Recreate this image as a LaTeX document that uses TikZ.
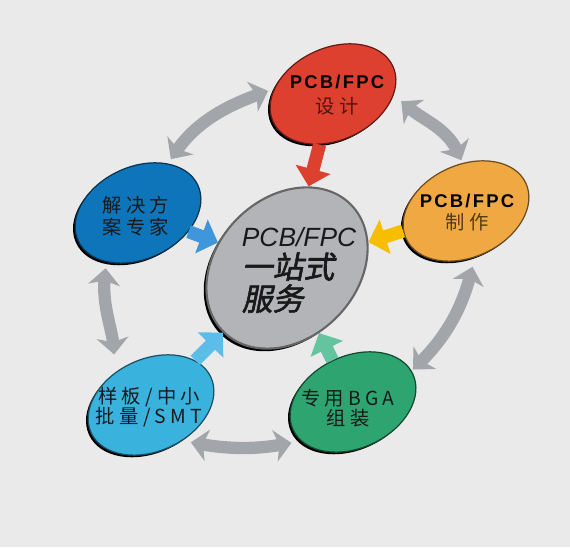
\documentclass[tikz,border=0pt]{standalone}
\usepackage{fontspec}
\setmainfont{Liberation Sans}
\newfontfamily\hanzi[LetterSpace=22]{Noto Sans CJK SC}
\newfontfamily\hubhanzi[FakeSlant=0.2,FakeBold=2]{Noto Sans CJK SC}
\newfontfamily\pcbfont[LetterSpace=12]{Liberation Sans}
\usetikzlibrary{shapes.geometric,arrows.meta,shadows}
\definecolor{paper}{RGB}{234,234,234}
\definecolor{dsgnred}{RGB}{222,64,48}
\definecolor{makeorange}{RGB}{240,168,66}
\definecolor{solblue}{RGB}{14,117,186}
\definecolor{smtcyan}{RGB}{58,178,222}
\definecolor{bgagreen}{RGB}{46,165,112}
\definecolor{hubgray}{RGB}{178,180,184}
\definecolor{cyclegray}{RGB}{162,166,170}
\definecolor{feedyellow}{RGB}{247,190,0}
\definecolor{feedblue}{RGB}{64,150,218}
\definecolor{feedsky}{RGB}{92,190,232}
\definecolor{feedteal}{RGB}{100,196,160}

\tikzset{
  station/.style={ellipse, minimum width=2.64cm, minimum height=1.84cm, inner sep=0pt,
    rotate=25, fill=#1, draw=#1!45!black, line width=0.7pt,
    drop shadow={shadow xshift=-1.2pt, shadow yshift=-1.2pt, fill=black, opacity=1}},
  core/.style={ellipse, minimum width=3.6cm, minimum height=2.8cm, inner sep=0pt,
    rotate=45, fill=hubgray, draw=black!60, line width=1.2pt,
    drop shadow={shadow xshift=-1.5pt, shadow yshift=-1.5pt, fill=black, opacity=1}},
  caption/.style={align=center, text=black!90, font=\hanzi\fontsize{11}{12.5}\selectfont},
  cyclearrow/.style={draw=cyclegray, line width=7pt,
    {Stealth[width=18pt,length=9.5pt,inset=2.5pt]}-{Stealth[width=18pt,length=9.5pt,inset=2.5pt]}},
  feedarrow/.style={draw=#1, line width=7.5pt, -{Triangle[width=20pt,length=10pt]}}
}

\begin{document}
\begin{tikzpicture}[x=0.02cm,y=0.02cm]
  \fill[paper] (0,0) rectangle (570,547);

  % stations
  \node[core] (hub) at (287,279) {};
  \node[station=dsgnred] (design) at (333,453) {};
  \node[station=makeorange] (make) at (466,336) {};
  \node[station=solblue] (solution) at (138,334) {};
  \node[station=smtcyan] (smt) at (151,142) {};
  \node[station=bgagreen] (bga) at (353,145) {};

  % labels
  \node[align=left, text=black!90, font=\fontsize{16}{18.2}\selectfont] (hub-txt) at (299,277)
    {{\fontsize{15}{18.2}\selectfont\itshape PCB/FPC}\\
     {\hubhanzi\fontsize{17.5}{18.2}\selectfont 一站式}\\
     {\hubhanzi\fontsize{17.5}{18.2}\selectfont 服务}};
  \node[caption] (design-txt) at (337,452)
    {{\pcbfont\bfseries\fontsize{10.5}{12}\selectfont\color{black} PCB/FPC}\\[2pt]{\color{dsgnred!35!black}设计}};
  \node[caption] (make-txt) at (467,334)
    {{\pcbfont\bfseries\fontsize{10.5}{12}\selectfont\color{black} PCB/FPC}\\{\color{makeorange!35!black}制作}};
  \node[caption] (solution-txt) at (136,331) {解决方\\案专家};
  \node[caption] (smt-txt) at (149,140) {样板/中小\\[-1pt]批量/SMT};
  \node[caption] (bga-txt) at (348,139) {专用BGA\\[-1pt]组装};

  % feeds into the hub
  \draw[feedarrow=dsgnred] (design) -- (hub);
  \draw[feedarrow=feedyellow] (make) -- (hub);
  \draw[feedarrow=feedblue] (solution) -- (hub);
  \draw[feedarrow=feedsky] (smt) -- (hub);
  \draw[feedarrow=feedteal] (bga) -- (hub);

  % cycle around
  \draw[cyclearrow, shorten <=3pt, shorten >=3.5pt] (solution.34) to[out=55,in=200] (design.150);
  \draw[cyclearrow, shorten <=5.5pt, shorten >=1.7pt] (design.-26) to[out=-40,in=115] (make.69);
  \draw[cyclearrow, shorten <=5.5pt, shorten >=1pt] (make.-104) to[out=-105,in=45] (bga.3);
  \draw[cyclearrow, shorten <=5.5pt, shorten >=5pt] (bga.192) to[out=190,in=-10] (smt.-74);
  \draw[cyclearrow, shorten <=10pt, shorten >=3.5pt] (smt.112) to[out=95,in=-95] (solution.212);
\end{tikzpicture}
\end{document}
